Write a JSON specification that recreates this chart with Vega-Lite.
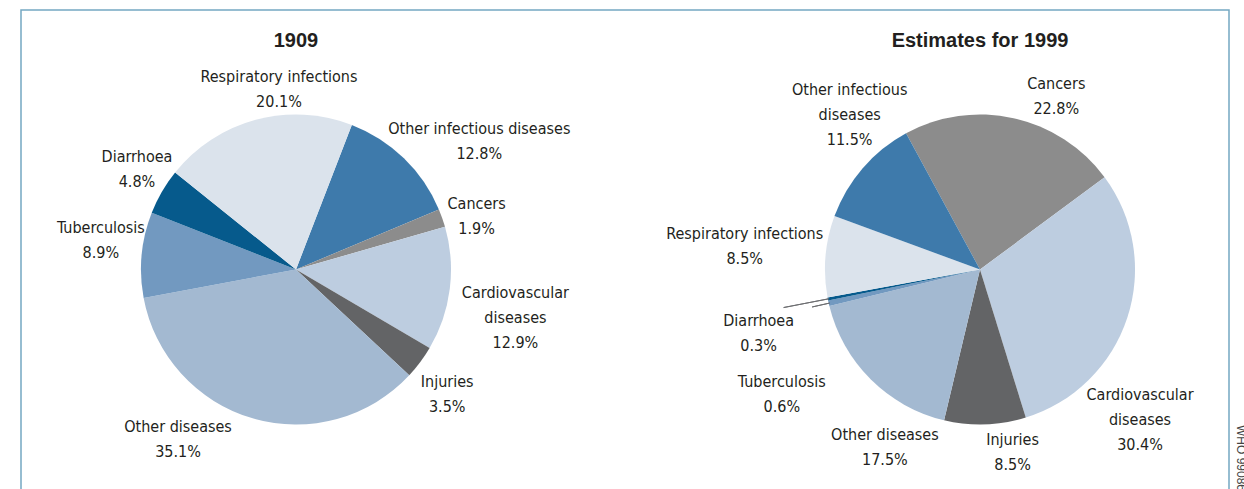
{
  "$schema": "https://vega.github.io/schema/vega-lite/v6.json",
  "width": 1208,
  "height": 519,
  "autosize": {"type": "none"},
  "padding": {"left": 21, "top": 10, "right": 15, "bottom": -40},
  "background": "white",
  "config": {
    "view": {"stroke": "#74a8c2", "strokeWidth": 1.5},
    "font": "DejaVu Sans Condensed, sans-serif"
  },
  "title": {
    "text": "WHO 99086",
    "orient": "right",
    "anchor": "end",
    "frame": "group",
    "font": "Liberation Sans, sans-serif",
    "fontSize": 12,
    "fontWeight": "normal",
    "color": "#444444",
    "offset": 5,
    "dx": -38
  },
  "datasets": {
    "deaths": [
      {"year": "1909", "cause": "Other infectious diseases", "pct": 12.8, "order": 1, "label": "Other infectious diseases\n12.8%"},
      {"year": "1909", "cause": "Cancers", "pct": 1.9, "order": 2, "label": "Cancers\n1.9%"},
      {"year": "1909", "cause": "Cardiovascular diseases", "pct": 12.9, "order": 3, "label": "Cardiovascular\ndiseases\n12.9%"},
      {"year": "1909", "cause": "Injuries", "pct": 3.5, "order": 4, "label": "Injuries\n3.5%"},
      {"year": "1909", "cause": "Other diseases", "pct": 35.1, "order": 5, "label": "Other diseases\n35.1%"},
      {"year": "1909", "cause": "Tuberculosis", "pct": 8.9, "order": 6, "label": "Tuberculosis\n8.9%"},
      {"year": "1909", "cause": "Diarrhoea", "pct": 4.8, "order": 7, "label": "Diarrhoea\n4.8%"},
      {"year": "1909", "cause": "Respiratory infections", "pct": 20.1, "order": 8, "label": "Respiratory infections\n20.1%"},
      {"year": "1999", "cause": "Cancers", "pct": 22.8, "order": 1, "label": "Cancers\n22.8%"},
      {"year": "1999", "cause": "Cardiovascular diseases", "pct": 30.4, "order": 2, "label": "Cardiovascular\ndiseases\n30.4%"},
      {"year": "1999", "cause": "Injuries", "pct": 8.5, "order": 3, "label": "Injuries\n8.5%"},
      {"year": "1999", "cause": "Other diseases", "pct": 17.5, "order": 4, "label": "Other diseases\n17.5%"},
      {"year": "1999", "cause": "Tuberculosis", "pct": 0.6, "order": 5, "label": "Tuberculosis\n0.6%"},
      {"year": "1999", "cause": "Diarrhoea", "pct": 0.3, "order": 6, "label": "Diarrhoea\n0.3%"},
      {"year": "1999", "cause": "Respiratory infections", "pct": 8.5, "order": 7, "label": "Respiratory infections\n8.5%"},
      {"year": "1999", "cause": "Other infectious diseases", "pct": 11.5, "order": 8, "label": "Other infectious\ndiseases\n11.5%"}
    ],
    "panels": [
      {"year": "1909", "title": "1909"},
      {"year": "1999", "title": "Estimates for 1999"}
    ]
  },
  "data": {"name": "deaths"},
  "layer": [
    {
      "transform": [{"filter": "datum.year == '1909'"}],
      "layer": [
        {
          "mark": {"type": "arc", "outerRadius": 155},
          "encoding": {
            "x": {"field": "year", "type": "nominal", "scale": {"type": "point", "padding": 0, "domain": ["1909", "1999"], "range": [275, 959]}, "axis": null},
            "theta": {"field": "pct", "type": "quantitative", "stack": true, "scale": {"domain": [0, 100], "range": [0.3683, 6.6515]}},
            "order": {"field": "order", "type": "quantitative"},
            "color": {
              "field": "cause", "type": "nominal", "legend": null,
              "scale": {
                "domain": ["Respiratory infections", "Other infectious diseases", "Cancers", "Cardiovascular diseases", "Injuries", "Other diseases", "Tuberculosis", "Diarrhoea"],
                "range": ["#dbe3ec", "#3e7aab", "#8c8c8c", "#bdcde0", "#636466", "#a3b9d1", "#7299c0", "#065a8c"]
              }
            }
          }
        },
        {
          "mark": {
            "type": "text", "radius": 200, "align": "center", "baseline": "middle",
            "lineBreak": "\n", "fontSize": 16, "lineHeight": 25, "color": "#231f20",
            "dx": {"expr": "[44,-8,21,-9,-62,4,14,35][datum.order-1]"},
            "dy": {"expr": "[3.5,0.5,-2,-7.5,-34.5,-22.5,-12.5,0.5][datum.order-1]"}
          },
          "encoding": {
            "x": {"field": "year", "type": "nominal", "scale": {"type": "point", "padding": 0, "domain": ["1909", "1999"], "range": [275, 959]}, "axis": null},
            "theta": {"field": "pct", "type": "quantitative", "stack": true},
            "order": {"field": "order", "type": "quantitative"},
            "text": {"field": "label"}
          }
        }
      ]
    },
    {
      "transform": [{"filter": "datum.year == '1999'"}],
      "layer": [
        {
          "mark": {"type": "arc", "outerRadius": 155},
          "encoding": {
            "x": {"field": "year", "type": "nominal", "scale": {"type": "point", "padding": 0, "domain": ["1909", "1999"], "range": [275, 959]}, "axis": null},
            "theta": {"field": "pct", "type": "quantitative", "stack": true, "scale": {"domain": [0, 100.1], "range": [-0.4974, 5.7858]}},
            "order": {"field": "order", "type": "quantitative"},
            "color": {"field": "cause", "type": "nominal", "legend": null}
          }
        },
        {
          "transform": [
            {"stack": "pct", "groupby": ["year"], "sort": [{"field": "order"}], "as": ["s0", "s1"]},
            {"filter": "datum.pct < 1"},
            {"calculate": "(datum.s0 + datum.s1) / 2", "as": "mid"}
          ],
          "mark": {
            "type": "arc", "innerRadius": 154,
            "outerRadius": {"expr": "datum.cause == 'Diarrhoea' ? 200 : 172"},
            "fill": "transparent", "stroke": "#6d6e71", "strokeWidth": 1
          },
          "encoding": {
            "x": {"field": "year", "type": "nominal", "scale": {"type": "point", "padding": 0, "domain": ["1909", "1999"], "range": [275, 959]}, "axis": null},
            "theta": {"field": "mid", "type": "quantitative", "stack": null},
            "theta2": {"field": "mid"}
          }
        },
        {
          "mark": {
            "type": "text", "radius": 200, "align": "center", "baseline": "middle",
            "lineBreak": "\n", "fontSize": 16, "lineHeight": 25, "color": "#231f20",
            "dx": {"expr": "[33,-30,26,46,-3,-25,-36,21][datum.order-1]"},
            "dy": {"expr": "[9.5,63,-29.5,23.5,68.5,13.5,-18.5,-49][datum.order-1]"}
          },
          "encoding": {
            "x": {"field": "year", "type": "nominal", "scale": {"type": "point", "padding": 0, "domain": ["1909", "1999"], "range": [275, 959]}, "axis": null},
            "theta": {"field": "pct", "type": "quantitative", "stack": true},
            "order": {"field": "order", "type": "quantitative"},
            "text": {"field": "label"}
          }
        }
      ]
    },
    {
      "data": {"name": "panels"},
      "mark": {
        "type": "text", "theta": 0, "radius": 229, "align": "center", "baseline": "middle",
        "font": "Liberation Sans, sans-serif", "fontSize": 20, "fontWeight": "bold", "color": "#231f20"
      },
      "encoding": {
        "x": {"field": "year", "type": "nominal", "scale": {"type": "point", "padding": 0, "domain": ["1909", "1999"], "range": [275, 959]}, "axis": null},
        "text": {"field": "title"}
      }
    }
  ],
  "resolve": {"scale": {"theta": "independent"}}
}
